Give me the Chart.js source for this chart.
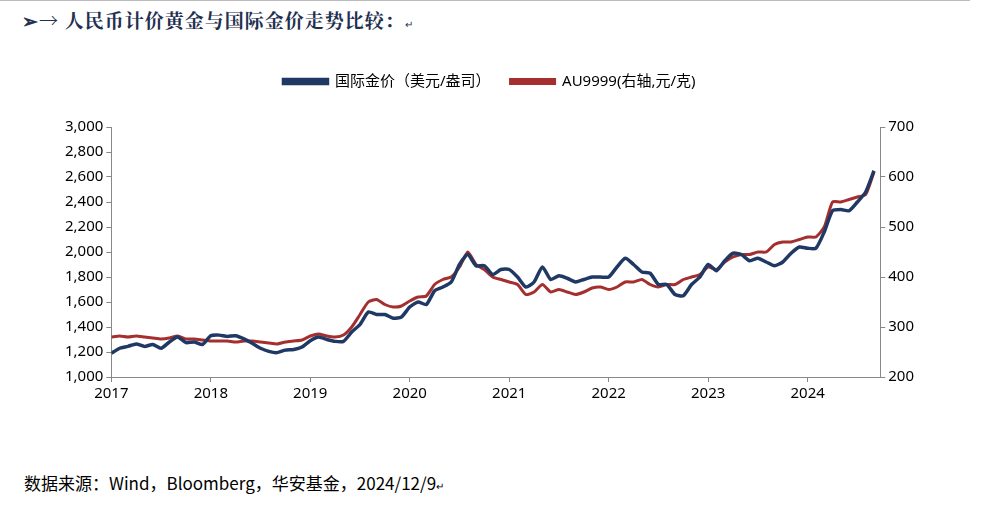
<!DOCTYPE html>
<html><head><meta charset="utf-8">
<script src="https://cdn.jsdelivr.net/npm/chart.js@4"></script>
<style>
body{margin:0;width:991px;height:513px;background:#fff;overflow:hidden;position:relative;font-family:"Noto Sans","Noto Sans CJK SC",sans-serif}
#title{position:absolute;left:22px;top:6px;font:bold 19px "Noto Serif CJK SC","Noto Sans CJK SC",serif;color:#1f3050;letter-spacing:1px}
#topline{position:absolute;left:0;top:0;width:970px;border-top:1px solid #bbb}
#foot{position:absolute;left:24px;top:470px;font-size:17px;font-family:"Noto Sans CJK SC",sans-serif;color:#000}
#wrap{position:absolute;left:62px;top:54px;width:855px;height:352px}
</style></head><body>
<div id="topline"></div>
<div id="title">➢→ 人民币计价黄金与国际金价走势比较：<span style="font-size:10px;font-weight:normal">↵</span></div>
<div id="wrap"><canvas id="c"></canvas></div>
<div id="foot">数据来源：Wind，Bloomberg，华安基金，2024/12/9<span style="font-size:10px">↵</span></div>
<script>
// monthly readings, 2017-01 .. 2024-09
const gold = [
1190,1230,1245,1265,1245,1260,1230,1280,1320,1275,1280,1260,
1330,1335,1325,1330,1305,1270,1230,1205,1195,1215,1220,1240,
1290,1320,1300,1285,1285,1360,1420,1520,1500,1500,1470,1480,
1560,1600,1580,1690,1720,1760,1900,1980,1890,1890,1820,1860,
1860,1800,1720,1760,1880,1780,1810,1790,1760,1780,1800,1800,
1800,1880,1950,1900,1840,1830,1740,1740,1660,1650,1740,1800,
1900,1850,1930,1990,1980,1930,1950,1920,1890,1920,1990,2040,
2030,2030,2160,2330,2340,2330,2400,2480,2650];
const au = [
280,282,280,282,280,278,276,278,282,276,276,274,
272,272,272,270,272,272,270,268,266,270,272,274,
282,286,282,280,284,300,325,350,355,345,340,342,
352,360,362,385,395,400,420,450,425,415,400,395,
390,385,365,370,385,370,375,370,365,370,378,380,
375,380,390,390,395,385,380,385,385,395,400,405,
420,415,430,440,445,445,450,450,465,470,470,475,
480,480,500,550,550,555,560,565,610];
const years = [2017,2018,2019,2020,2021,2022,2023,2024];
const t = gold.map((v,i)=>2017+i/12);

const font = {family:'"Noto Sans","Noto Sans CJK SC",sans-serif',size:15};
const axisGrid = {drawOnChartArea:false,drawTicks:true,tickLength:5,color:'#888'};
const legendGap = {id:'legendGap',beforeInit(chart){
  const fit = chart.legend.fit;
  chart.legend.fit = function(){fit.bind(chart.legend)();this.height += 28;};
}};
new Chart(document.getElementById('c'),{
  type:'line',
  data:{datasets:[
    {label:'国际金价（美元/盎司）',data:t.map((x,i)=>({x,y:gold[i]})),borderColor:'#1f3864',backgroundColor:'#1f3864',borderWidth:3.5,pointRadius:0,yAxisID:'y',tension:0.2},
    {label:'AU9999(右轴,元/克)',data:t.map((x,i)=>({x,y:au[i]})),borderColor:'#a52f2f',backgroundColor:'#a52f2f',borderWidth:3,pointRadius:0,yAxisID:'y1',tension:0.2}
  ]},
  plugins:[legendGap],
  options:{animation:false,responsive:true,maintainAspectRatio:false,
    layout:{padding:{left:0,right:0}},
    plugins:{legend:{labels:{font,color:'#000',boxWidth:44,boxHeight:4,padding:20}},tooltip:{enabled:false}},
    scales:{
      x:{type:'linear',min:2017,max:2024.73,grid:axisGrid,border:{color:'#888'},
        afterBuildTicks:a=>{a.ticks=years.map(v=>({value:v}))},
        ticks:{font,color:'#000',callback:v=>String(v),maxRotation:0}},
      y:{min:1000,max:3000,grid:axisGrid,border:{color:'#888'},
        ticks:{stepSize:200,font,color:'#000',callback:v=>v.toLocaleString('en-US')}},
      y1:{position:'right',min:200,max:700,grid:axisGrid,border:{color:'#888'},
        ticks:{stepSize:100,font,color:'#000'}}
    }}
});
</script></body></html>
